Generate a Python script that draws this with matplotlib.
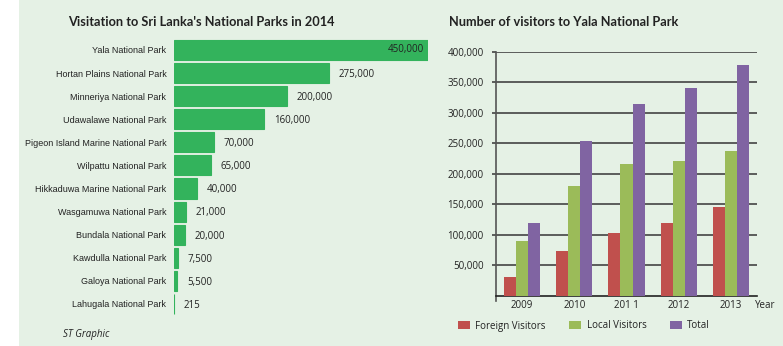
import matplotlib
matplotlib.use("Agg")
import matplotlib.pyplot as plt
from matplotlib.patches import Rectangle
import numpy as np

# ---------------- data ----------------
parks = ["Yala National Park", "Hortan Plains National Park", "Minneriya National Park",
         "Udawalawe National Park", "Pigeon Island Marine National Park", "Wilpattu National Park",
         "Hikkaduwa Marine National Park", "Wasgamuwa National Park", "Bundala National Park",
         "Kawdulla National Park", "Galoya National Park", "Lahugala National Park"]
park_visits = [450000, 275000, 200000, 160000, 70000, 65000, 40000, 21000, 20000, 7500, 5500, 215]

years = ["2009", "2010", "201 1", "2012", "2013"]
foreign = [31000, 74000, 102000, 120000, 145000]
local = [89000, 180000, 216000, 220000, 238000]
total = [119000, 254000, 315000, 340000, 378000]
yticks = [50000, 100000, 150000, 200000, 250000, 300000, 350000, 400000]

BG = "#e5f1e5"
W, H = 783, 346
fig = plt.figure(figsize=(W / 100, H / 100), dpi=100)
fig.patch.set_facecolor("white")
fig.add_artist(Rectangle((19 / W, 0), 1 - 19 / W, 1, transform=fig.transFigure,
                         facecolor=BG, edgecolor="none", zorder=-10))

TXT = "#222222"
num_font = ["Open Sans", "DejaVu Sans"]
title_font = ["Lato", "DejaVu Sans"]
cat_font = ["Liberation Sans Narrow", "Liberation Sans", "DejaVu Sans"]

def fx(px):
    return px / W

def fy(py):
    return 1 - py / H

# ---------------- left chart ----------------
axL = fig.add_axes([fx(174), fy(315.5), fx(428) - fx(174), fy(38.45) - fy(315.5)])
axL.set_facecolor("none")
ypos = np.arange(len(parks))
GREEN = "#33b35c"
axL.barh(ypos, park_visits, height=0.87, color=GREEN, edgecolor=GREEN, linewidth=0.8)
axL.set_xlim(0, 450000)
axL.set_ylim(len(parks) - 0.5, -0.5)
for s in axL.spines.values():
    s.set_visible(False)
axL.set_xticks([])
axL.set_yticks(ypos)
axL.set_yticklabels(parks, fontsize=6.5, family=cat_font, color=TXT)
axL.tick_params(axis="y", length=0, pad=5.5)
for i, v in enumerate(park_visits):
    lab = f"{v:,}"
    if i == 0:
        axL.annotate(lab, (v, i), xytext=(-3, 0), textcoords="offset points",
                     ha="right", va="center", fontsize=7, family=num_font, color=TXT)
    else:
        axL.annotate(lab, (v, i), xytext=(7, -1), textcoords="offset points",
                     ha="left", va="center", fontsize=7, family=num_font, color=TXT)

fig.text(fx(68), fy(22), "Visitation to Sri Lanka's National Parks in 2014",
         fontsize=9.2, fontweight="bold", family=title_font, color=TXT, va="center", ha="left")
fig.text(fx(63), fy(334), "ST Graphic", fontsize=7, style="italic", family=num_font,
         color=TXT, va="center", ha="left")

# ---------------- right chart ----------------
axR = fig.add_axes([fx(496), fy(295.7), fx(757) - fx(496), fy(51.7) - fy(295.7)])
axR.set_facecolor("none")
x = np.arange(len(years))
bw = 0.23
b1 = axR.bar(x - bw, foreign, bw, color="#c0504d", label="Foreign Visitors", zorder=3)
b2 = axR.bar(x, local, bw, color="#9bbb59", label="Local Visitors", zorder=3)
b3 = axR.bar(x + bw, total, bw, color="#8064a2", label="Total", zorder=3)
axR.set_xlim(-0.5, len(years) - 0.5)
axR.set_ylim(0, 400000)
axR.set_yticks(yticks)
axR.set_yticklabels([f"{t:,}" for t in yticks], fontsize=7, family=num_font, color=TXT)
axR.set_xticks(x)
axR.set_xticklabels(years, fontsize=7, family=num_font, color=TXT)
axR.tick_params(axis="x", length=0, pad=3)
axR.tick_params(axis="y", length=3, width=1.2, color="#444444", pad=6)
axR.grid(axis="y", color="#444444", linewidth=1.2, zorder=0)
for k in ["top", "right"]:
    axR.spines[k].set_visible(False)
axR.spines["left"].set_color("#555555")
axR.spines["left"].set_linewidth(1.2)
axR.spines["left"].set_bounds(-8000, 400000)
axR.spines["bottom"].set_color("#222222")
axR.spines["bottom"].set_linewidth(1.2)
fig.text(fx(755), fy(305), "Year", fontsize=7, family=num_font, color=TXT, va="center", ha="left")
fig.text(fx(449), fy(22), "Number of visitors to Yala National Park",
         fontsize=9.2, fontweight="bold", family=title_font, color=TXT, va="center", ha="left")

leg = fig.legend(handles=[b1, b2, b3], loc="center left", bbox_to_anchor=(fx(454), fy(326)),
                 ncol=3, frameon=False, prop={"family": num_font, "size": 7},
                 handlelength=1.2, handleheight=0.8, handletextpad=0.6, columnspacing=2.4,
                 borderaxespad=0)
for t in leg.get_texts():
    t.set_color(TXT)

fig.savefig("out.png", dpi=100, facecolor=fig.get_facecolor())
